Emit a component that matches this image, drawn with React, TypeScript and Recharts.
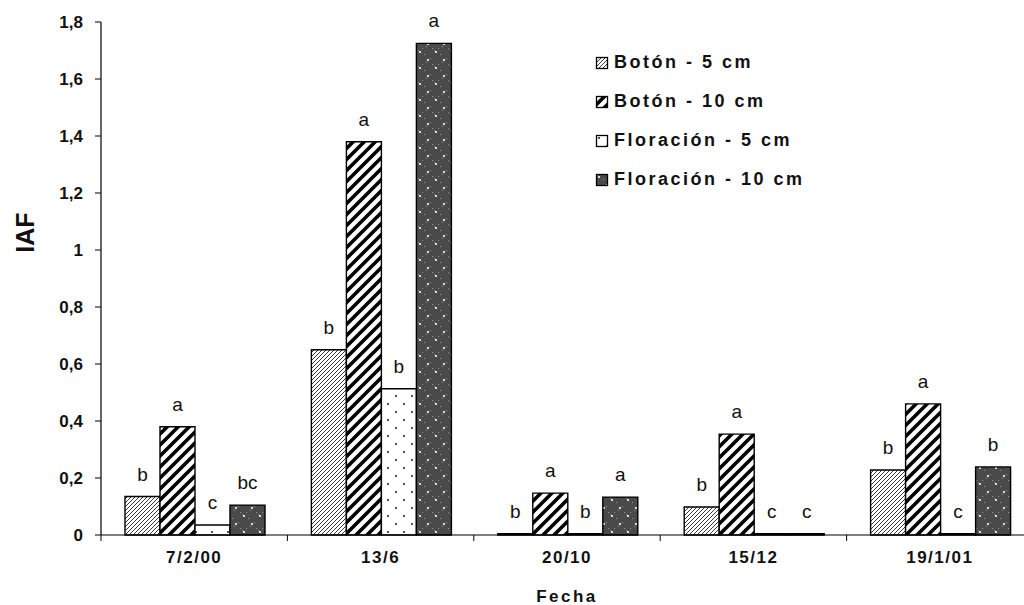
import { BarChart, Bar, XAxis, YAxis, Legend, LabelList } from 'recharts';

const FONT = '"Liberation Sans", Arial, sans-serif';

const categories = ['7/2/00', '13/6', '20/10', '15/12', '19/1/01'];
const boton5 = [0.135, 0.65, 0.005, 0.098, 0.228];
const boton10 = [0.38, 1.38, 0.147, 0.354, 0.46];
const flor5 = [0.035, 0.513, 0.005, 0.005, 0.005];
const flor10 = [0.105, 1.725, 0.133, 0.005, 0.239];
const letrasB5 = ['b', 'b', 'b', 'b', 'b'];
const letrasB10 = ['a', 'a', 'a', 'a', 'a'];
const letrasF5 = ['c', 'b', 'b', 'c', 'c'];
const letrasF10 = ['bc', 'a', 'a', 'c', 'b'];
const yTicks = [0, 0.2, 0.4, 0.6, 0.8, 1, 1.2, 1.4, 1.6, 1.8];

const SERIES = [
  { key: 'b5', lk: 'lb5', name: 'Botón - 5 cm', fill: 'url(#hatchThin)' },
  { key: 'b10', lk: 'lb10', name: 'Botón - 10 cm', fill: 'url(#hatchThick)' },
  { key: 'f5', lk: 'lf5', name: 'Floración - 5 cm', fill: 'url(#dots)' },
  { key: 'f10', lk: 'lf10', name: 'Floración - 10 cm', fill: 'url(#dark)' },
];

const data = categories.map((c, i) => ({
  fecha: c,
  b5: boton5[i], b10: boton10[i], f5: flor5[i], f10: flor10[i],
  lb5: letrasB5[i], lb10: letrasB10[i], lf5: letrasF5[i], lf10: letrasF10[i],
}));

function Patterns() {
  return (
    <svg width={0} height={0} style={{ position: 'absolute' }}>
      <defs>
        <pattern id="hatchThin" patternUnits="userSpaceOnUse" width={4} height={4}>
          <rect width={4} height={4} fill="#fff" />
          <path d="M-1,1 l2,-2 M0,4 l4,-4 M3,5 l2,-2" stroke="#222" strokeWidth={0.9} />
        </pattern>
        <pattern id="hatchThick" patternUnits="userSpaceOnUse" width={11} height={11}>
          <rect width={11} height={11} fill="#fff" />
          <path d="M-3,3 l6,-6 M0,11 l11,-11 M8,14 l6,-6" stroke="#000" strokeWidth={3.6} />
        </pattern>
        <pattern id="dots" patternUnits="userSpaceOnUse" width={16} height={16}>
          <rect width={16} height={16} fill="#fff" />
          <circle cx={4} cy={4} r={0.9} fill="#000" />
          <circle cx={12} cy={12} r={0.9} fill="#000" />
        </pattern>
        <pattern id="dark" patternUnits="userSpaceOnUse" width={16} height={16}>
          <rect width={16} height={16} fill="#4a4a4a" />
          <path d="M0,0h1v1h-1z M2,2h1v1h-1z M6,0h1v1h-1z M8,6h1v1h-1z M14,10h1v1h-1z M10,14h1v1h-1z" fill="#999" />
          <circle cx={4} cy={4} r={1.1} fill="#fff" />
          <circle cx={12} cy={12} r={1.1} fill="#fff" />
        </pattern>
      </defs>
    </svg>
  );
}

function XTick(props: any) {
  const { x, y, payload, index, visibleTicksCount, width } = props;
  const half = payload.offset ?? width / visibleTicksCount / 2;
  const ty = y - 5;
  return (
    <g>
      <line x1={x - half} x2={x - half} y1={ty} y2={ty + 6} stroke="#000" />
      {index === visibleTicksCount - 1 && (
        <line x1={x + half} x2={x + half} y1={ty} y2={ty + 6} stroke="#000" />
      )}
      <text x={x} y={ty + 28} textAnchor="middle" fontFamily={FONT} fontWeight="bold"
        fontSize={17} letterSpacing={1.5} fill="#111">
        {payload.value}
      </text>
    </g>
  );
}

function LegendBox() {
  return (
    <div style={{ fontFamily: FONT }}>
      {SERIES.map(s => (
        <div key={s.key} style={{ display: 'flex', alignItems: 'center', height: 39 }}>
          <svg width={16} height={14} style={{ marginRight: 3 }}>
            <rect x={1.5} y={1.5} width={11} height={11} fill={s.fill} stroke="#000" strokeWidth={1.3} />
          </svg>
          <span style={{ fontSize: 18, fontWeight: 'bold', letterSpacing: 2.5, color: '#111' }}>{s.name}</span>
        </div>
      ))}
    </div>
  );
}

function YLabel(props: any) {
  const { viewBox } = props;
  const cx = 25;
  const cy = viewBox.y + viewBox.height / 2 - 46;
  return (
    <text x={cx} y={cy} transform={`rotate(-90, ${cx}, ${cy})`} textAnchor="middle" dy={9}
      fontFamily={FONT} fontWeight="bold" fontSize={25} fill="#111">
      IAF
    </text>
  );
}

export default function App() {
  return (
    <div style={{ position: 'fixed', left: 0, top: 0, width: 1024, height: 605, overflow: 'hidden', background: '#fff' }}>
      <Patterns />
      <BarChart width={1040} height={605} data={data}
        margin={{ top: 22, right: 7, left: 0, bottom: 0 }}
        barCategoryGap={24} barGap={0}>
        <XAxis dataKey="fecha" height={70} tickLine={false} tickSize={5} tickMargin={0}
          axisLine={{ stroke: '#000', strokeWidth: 1.2 }} tick={<XTick />} interval={0}
          label={{ value: 'Fecha', position: 'insideBottom', offset: 3, fontFamily: FONT, fontWeight: 'bold', fontSize: 17, letterSpacing: 2.5, fill: '#111' }} />
        <YAxis width={101} domain={[0, 1.8]} ticks={yTicks} interval={0} tickSize={6} tickMargin={12}
          axisLine={{ stroke: '#000', strokeWidth: 1.2 }} tickLine={{ stroke: '#000' }}
          tick={{ fontFamily: FONT, fontWeight: 'bold', fontSize: 17, fill: '#111' }}
          tickFormatter={(v: number) => String(v).replace('.', ',')}
          label={<YLabel />} />
        <Legend layout="horizontal" align="center" verticalAlign="middle" content={<LegendBox />}
          wrapperStyle={{ position: 'absolute', top: 43, left: 595, width: 260 }} />
        {SERIES.map(s => (
          <Bar key={s.key} dataKey={s.key} name={s.name} fill={s.fill} stroke="#000" strokeWidth={1.4}
            isAnimationActive={false}>
            <LabelList dataKey={s.lk} position="top" offset={16} fill="#111" fontFamily={FONT} fontSize={19} />
          </Bar>
        ))}
      </BarChart>
    </div>
  );
}
